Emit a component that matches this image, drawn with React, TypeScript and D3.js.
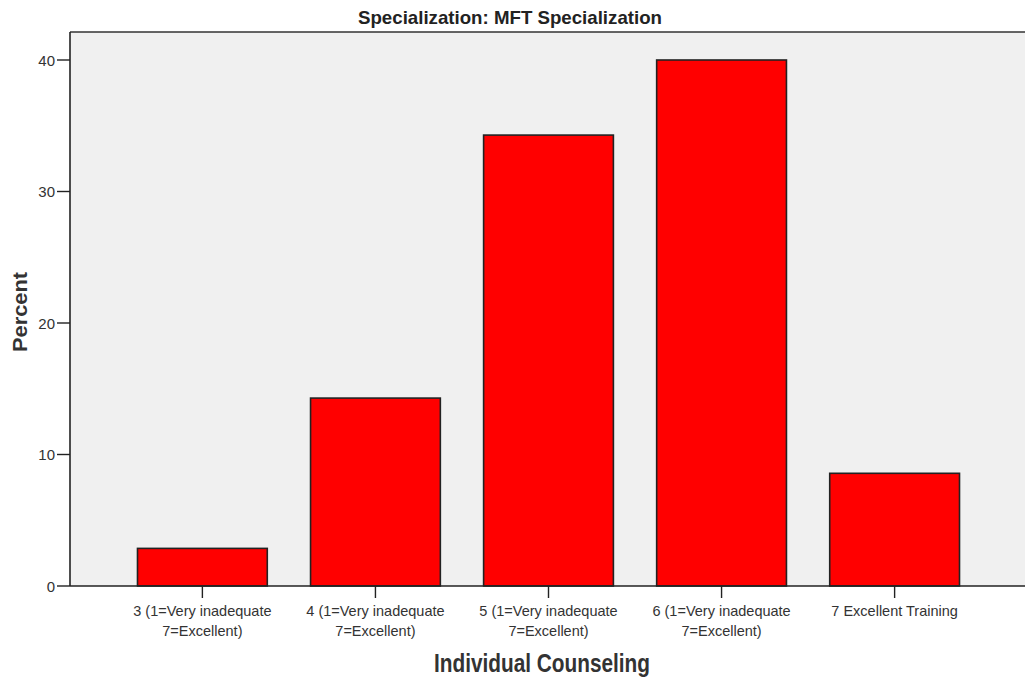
import React from "react";
import * as d3 from "d3";

const categories = [
  "3 (1=Very inadequate|7=Excellent)",
  "4 (1=Very inadequate|7=Excellent)",
  "5 (1=Very inadequate|7=Excellent)",
  "6 (1=Very inadequate|7=Excellent)",
  "7 Excellent Training",
];
const percents = [2.86, 14.29, 34.29, 40.0, 8.57];
const yTicks = [0, 10, 20, 30, 40];

const W = 1025;
const H = 681;
const left = 70;
const right = 1027;
const top = 32;
const bottom = 586;
const FONT = "'Liberation Sans', Arial, sans-serif";

export default function App() {
  const x = d3
    .scaleBand<string>()
    .domain(categories)
    .range([left, right])
    .paddingInner(0.25)
    .paddingOuter(0.39);
  const y = d3.scaleLinear().domain([0, 40]).range([bottom, 60]);

  return (
    <svg
      width={W}
      height={H}
      style={{ position: "absolute", left: 0, top: 0, background: "#fff" }}
      fontFamily={FONT}
    >
      <rect x={left} y={top} width={right - left} height={bottom - top} fill="#f0f0f0" />
      {categories.map((c, i) => (
        <rect
          key={c}
          x={x(c)}
          y={y(percents[i])}
          width={x.bandwidth()}
          height={bottom - y(percents[i])}
          fill="#ff0000"
          stroke="#222"
          strokeWidth={1.6}
        />
      ))}
      <line x1={left} x2={right} y1={top} y2={top} stroke="#333" strokeWidth={1.6} />
      <line x1={left} x2={left} y1={top} y2={bottom} stroke="#222" strokeWidth={1.6} />
      <line x1={left} x2={right} y1={bottom} y2={bottom} stroke="#222" strokeWidth={1.6} />
      {yTicks.map((t) => (
        <g key={t}>
          <line x1={left - 13} x2={left} y1={y(t)} y2={y(t)} stroke="#222" strokeWidth={1.4} />
          <text x={left - 15} y={y(t) + 5.5} textAnchor="end" fontSize={15} fill="#333">
            {t}
          </text>
        </g>
      ))}
      {categories.map((c) => {
        const cx = (x(c) as number) + x.bandwidth() / 2;
        const lines = c.split("|");
        return (
          <g key={c}>
            <line x1={cx} x2={cx} y1={bottom} y2={bottom + 12} stroke="#222" strokeWidth={1.4} />
            {lines.map((l, k) => (
              <text key={k} x={cx} y={bottom + 30 + k * 20} textAnchor="middle" fontSize={14.5} fill="#333">
                {l}
              </text>
            ))}
          </g>
        );
      })}
      <text
        x={510}
        y={24}
        textAnchor="middle"
        fontSize={19}
        fontWeight="bold"
        fill="#222"
        textLength={304}
        lengthAdjust="spacingAndGlyphs"
      >
        Specialization: MFT Specialization
      </text>
      <text
        x={542}
        y={672}
        textAnchor="middle"
        fontSize={25}
        fontWeight="bold"
        fill="#333"
        textLength={216}
        lengthAdjust="spacingAndGlyphs"
      >
        Individual Counseling
      </text>
      <text
        transform={`translate(27, 312) rotate(-90)`}
        textAnchor="middle"
        fontSize={21}
        fontWeight="bold"
        fill="#333"
        textLength={80}
        lengthAdjust="spacingAndGlyphs"
      >
        Percent
      </text>
    </svg>
  );
}
